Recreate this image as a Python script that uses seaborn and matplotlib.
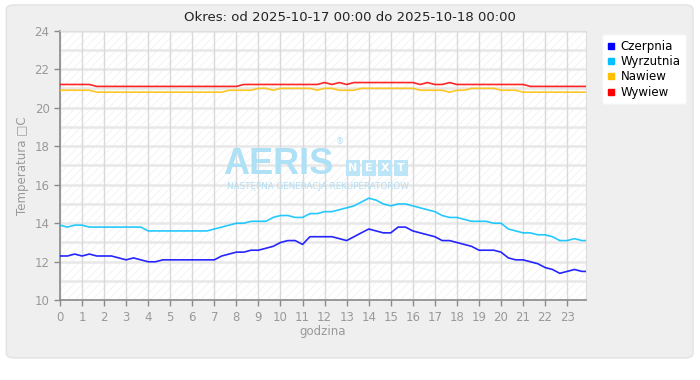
import numpy as np
import pandas as pd
import seaborn as sns
import matplotlib.pyplot as plt
from matplotlib.patches import FancyBboxPatch, Rectangle
from matplotlib.lines import Line2D

# readings every 20 minutes (+ last sample at 23:50)
minutes = list(range(0, 1440, 20)) + [1430]

czerpnia = [12.3, 12.3, 12.4, 12.3, 12.4, 12.3, 12.3, 12.3, 12.2, 12.1, 12.2, 12.1,
            12.0, 12.0, 12.1, 12.1, 12.1, 12.1, 12.1, 12.1, 12.1, 12.1, 12.3, 12.4,
            12.5, 12.5, 12.6, 12.6, 12.7, 12.8, 13.0, 13.1, 13.1, 12.9, 13.3, 13.3,
            13.3, 13.3, 13.2, 13.1, 13.3, 13.5, 13.7, 13.6, 13.5, 13.5, 13.8, 13.8,
            13.6, 13.5, 13.4, 13.3, 13.1, 13.1, 13.0, 12.9, 12.8, 12.6, 12.6, 12.6,
            12.5, 12.2, 12.1, 12.1, 12.0, 11.9, 11.7, 11.6, 11.4, 11.5, 11.6, 11.5,
            11.5]
wyrzutnia = [13.9, 13.8, 13.9, 13.9, 13.8, 13.8, 13.8, 13.8, 13.8, 13.8, 13.8, 13.8,
             13.6, 13.6, 13.6, 13.6, 13.6, 13.6, 13.6, 13.6, 13.6, 13.7, 13.8, 13.9,
             14.0, 14.0, 14.1, 14.1, 14.1, 14.3, 14.4, 14.4, 14.3, 14.3, 14.5, 14.5,
             14.6, 14.6, 14.7, 14.8, 14.9, 15.1, 15.3, 15.2, 15.0, 14.9, 15.0, 15.0,
             14.9, 14.8, 14.7, 14.6, 14.4, 14.3, 14.3, 14.2, 14.1, 14.1, 14.1, 14.0,
             14.0, 13.7, 13.6, 13.5, 13.5, 13.4, 13.4, 13.3, 13.1, 13.1, 13.2, 13.1,
             13.1]
nawiew = [20.9, 20.9, 20.9, 20.9, 20.9, 20.8, 20.8, 20.8, 20.8, 20.8, 20.8, 20.8,
          20.8, 20.8, 20.8, 20.8, 20.8, 20.8, 20.8, 20.8, 20.8, 20.8, 20.8, 20.9,
          20.9, 20.9, 20.9, 21.0, 21.0, 20.9, 21.0, 21.0, 21.0, 21.0, 21.0, 20.9,
          21.0, 21.0, 20.9, 20.9, 20.9, 21.0, 21.0, 21.0, 21.0, 21.0, 21.0, 21.0,
          21.0, 20.9, 20.9, 20.9, 20.9, 20.8, 20.9, 20.9, 21.0, 21.0, 21.0, 21.0,
          20.9, 20.9, 20.9, 20.8, 20.8, 20.8, 20.8, 20.8, 20.8, 20.8, 20.8, 20.8,
          20.8]
wywiew = [21.2, 21.2, 21.2, 21.2, 21.2, 21.1, 21.1, 21.1, 21.1, 21.1, 21.1, 21.1,
          21.1, 21.1, 21.1, 21.1, 21.1, 21.1, 21.1, 21.1, 21.1, 21.1, 21.1, 21.1,
          21.1, 21.2, 21.2, 21.2, 21.2, 21.2, 21.2, 21.2, 21.2, 21.2, 21.2, 21.2,
          21.3, 21.2, 21.3, 21.2, 21.3, 21.3, 21.3, 21.3, 21.3, 21.3, 21.3, 21.3,
          21.3, 21.2, 21.3, 21.2, 21.2, 21.3, 21.2, 21.2, 21.2, 21.2, 21.2, 21.2,
          21.2, 21.2, 21.2, 21.2, 21.1, 21.1, 21.1, 21.1, 21.1, 21.1, 21.1, 21.1,
          21.1]

series = ["Czerpnia", "Wyrzutnia", "Nawiew", "Wywiew"]
colors = ["#0000ff", "#00c0ff", "#ffbf00", "#ff0000"]

hours = np.array(minutes) / 60
df = pd.DataFrame({"godzina": hours, "Czerpnia": czerpnia, "Wyrzutnia": wyrzutnia,
                   "Nawiew": nawiew, "Wywiew": wywiew})
df = df.melt(id_vars="godzina", var_name="seria", value_name="temp")

plt.rcParams["font.family"] = ["DejaVu Sans"]
plt.rcParams["hatch.linewidth"] = 0.5
plt.rcParams["hatch.color"] = "#f0f0f0"

fig = plt.figure(figsize=(7, 3.8), dpi=100)
fig.patch.set_facecolor("white")
panel = FancyBboxPatch((0.009, 0.058), 0.981, 0.929, boxstyle="round,pad=0,rounding_size=0.012",
                       transform=fig.transFigure, fc="#efefef", ec="#e2e2e2", lw=1, zorder=-10)
fig.patches.append(panel)

ax = fig.add_axes([0.0857, 0.2097, 0.7513, 0.71])
ax.set_facecolor("white")
ax.add_patch(Rectangle((0, 0), 1, 1, transform=ax.transAxes, fc="white",
                       ec="#f0f0f0", hatch="////", lw=0, zorder=0))

for v in range(10, 25):
    ax.axhline(v, color="#e8e8e8", lw=1.8, zorder=1)
for h in range(0, 24):
    ax.axvline(h, color="#d9d9d9", lw=1, zorder=1)

# watermark
wm = "#aee0f6"
ax.text(0.31, 0.47, "AERIS", transform=ax.transAxes, ha="left", va="baseline",
        fontsize=26, fontweight="bold", family="Liberation Sans", color=wm, zorder=2)
ax.text(0.532, 0.59, "®", transform=ax.transAxes, ha="center", va="center",
        fontsize=6, color=wm, zorder=2)
for i, ch in enumerate("NEXT"):
    ax.text(0.557 + i * 0.0305, 0.49, ch, transform=ax.transAxes, ha="center", va="center",
            fontsize=8, fontweight="bold", color="white", zorder=2,
            bbox=dict(boxstyle="square,pad=0.25", fc="#bce6f7", ec="none"))
ax.text(0.49, 0.425, "NASTĘPNA GENERACJA REKUPERATORÓW", transform=ax.transAxes,
        ha="center", va="center", fontsize=6.3, color="#b4def3", zorder=2)

sns.lineplot(data=df, x="godzina", y="temp", hue="seria", hue_order=series,
             palette=colors, lw=1.2, alpha=0.85, ax=ax, legend=False, zorder=3)

ax.set_xlim(0, 23.85)
ax.set_ylim(10, 24)
ax.set_xticks(range(0, 24))
ax.set_yticks(range(10, 25, 2))
ax.tick_params(colors="#8a8a8a", labelsize=8.5, length=4, width=1)
ax.tick_params(axis="x", labelcolor="#999999")
ax.tick_params(axis="y", labelcolor="#999999")
for s in ["left", "bottom"]:
    ax.spines[s].set_color("#8a8a8a")
    ax.spines[s].set_linewidth(1.2)
for s in ["top", "right"]:
    ax.spines[s].set_color("#dddddd")
ax.set_xlabel("godzina", color="#999999", fontsize=8.5, labelpad=1)
ax.set_ylabel("Temperatura \u25a1C", color="#999999", fontsize=8.5, labelpad=4)

fig.text(0.5, 0.955, "Okres: od 2025-10-17 00:00 do 2025-10-18 00:00",
         ha="center", va="center", fontsize=9.5, color="#222222")

handles = [Line2D([], [], marker="s", ls="", color=c, markersize=4.5) for c in colors]
leg = fig.legend(handles, series, loc="upper left", bbox_to_anchor=(0.852, 0.925),
                 fontsize=8.5, frameon=True, fancybox=True, handlelength=0.6,
                 handletextpad=0.5, labelspacing=0.2, borderpad=0.45, framealpha=1)
leg.get_frame().set_edgecolor("#f4f4f4")
leg.get_frame().set_facecolor("white")

fig.savefig("out.png", dpi=100, facecolor=fig.get_facecolor())
